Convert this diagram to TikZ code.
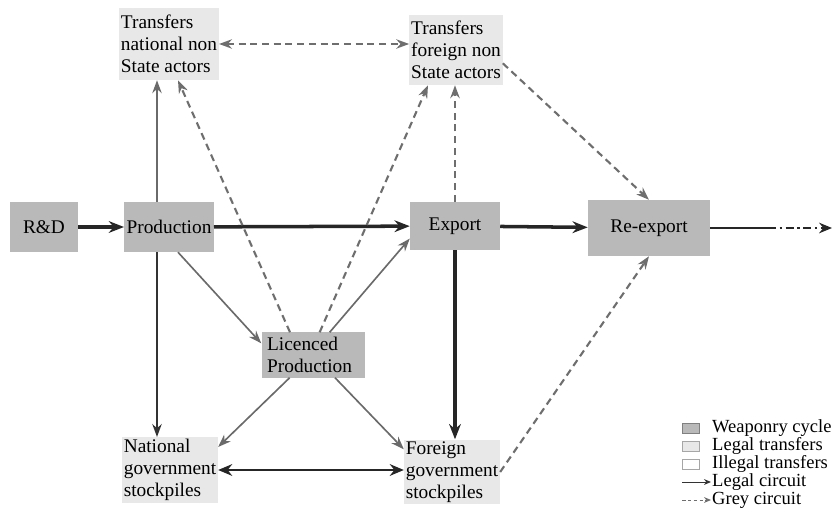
\documentclass[tikz,border=0pt]{standalone}
\usepackage{fontspec}
\setmainfont{Liberation Serif}
\usetikzlibrary{arrows.meta}
\definecolor{cyclegrey}{HTML}{B9B9B9}
\definecolor{legalgrey}{HTML}{E8E8E8}
\definecolor{linegrey}{HTML}{6A6A6A}
\definecolor{dashgrey}{HTML}{6E6E6E}
\tikzstyle{cycle} = [rectangle, fill=cyclegrey, inner sep=2pt, font=\fontsize{16.5}{19}\selectfont]
\tikzstyle{legal} = [rectangle, fill=legalgrey, inner sep=1.5pt, align=left, font=\fontsize{16.5}{19}\selectfont]
\tikzstyle{mainarrow} = [line width=3pt, -{Stealth[length=13pt, width=10pt]}, draw=black!85]
\tikzstyle{arrow} = [line width=1.5pt, -{Stealth[length=11pt, width=8pt]}, draw=black!80]
\tikzstyle{greyline} = [line width=1.4pt, -{Stealth[length=11pt, width=8pt]}, draw=linegrey]
\tikzstyle{greyarrow} = [line width=1.8pt, dash pattern=on 6pt off 4pt, -{Stealth[length=11pt, width=8pt]}, draw=dashgrey]
\tikzstyle{legendbox} = [rectangle, minimum width=0.5cm, minimum height=0.3cm, inner sep=0pt]
\tikzstyle{legendtext} = [anchor=west, inner sep=0pt, font=\fontsize{15.8}{15}\selectfont]

\begin{document}
\begin{tikzpicture}[x=0.03cm, y=-0.03cm]
\useasboundingbox (0,0) rectangle (836,516);

% Nodes
\node (rd) [cycle, minimum width=2.04cm, minimum height=1.5cm] at (44,227) {R\&D};
\node (prod) [cycle, minimum width=2.64cm, minimum height=1.5cm] at (169,227) {Production};
\node (export) [cycle, minimum width=2.7cm, minimum height=1.44cm] at (455,226) {Export};
\node (reexport) [cycle, minimum width=3.66cm, minimum height=1.68cm] at (649,228) {Re-export};
\node (licprod) [cycle, align=left, text width=2.75cm, minimum width=3.09cm, minimum height=1.35cm] at (313,355) {Licenced\\Production};

\node (tnat) [legal, minimum width=2.94cm, minimum height=2.16cm] at (169,44) {Transfers\\national non\\State actors};
\node (tfor) [legal, minimum width=2.76cm, minimum height=2.1cm] at (456,50) {Transfers\\foreign non\\State actors};
\node (natstock) [legal, minimum width=2.85cm, minimum height=1.5cm] at (170,470) {National\\government\\stockpiles};
\node (forstock) [legal, minimum width=2.85cm, minimum height=1.65cm] at (452,472) {Foreign\\government\\stockpiles};

\coordinate (natline) at ([xshift=-0.36cm]prod.south);
\coordinate (tnatline) at ([xshift=-0.36cm]prod.north);
\coordinate (outmid) at (768,228);
\coordinate (out) at (832,228);

% Arrows
\draw [mainarrow] (rd) -- (prod);
\draw [mainarrow] (prod) -- (export);
\draw [mainarrow] (export) -- (reexport);
\draw [line width=1.8pt, draw=black!85] (reexport.east) -- (outmid);
\draw [line width=1.8pt, draw=black!85, -{Stealth[length=11pt, width=9pt]}, dash pattern=on 7pt off 3pt on 2pt off 3pt] (outmid) -- (out);

\draw [greyline] (tnatline) -- (tnatline |- tnat.south);
\draw [arrow] (natline) -- (natline |- natstock.north);
\draw [mainarrow] (export.south) -- (export.south |- forstock.north);
\draw [greyarrow] (export.north) -- (export.north |- tfor.south);
\draw [greyarrow, {Stealth[length=11pt, width=8pt]}-{Stealth[length=11pt, width=8pt]}] (tnat.east) -- (tnat.east -| tfor.west);
\draw [greyarrow] ([yshift=-0.4cm]tfor.east) -- (reexport.north);
\draw [greyarrow] (forstock.east) -- (reexport.south);
\draw [greyarrow] ([xshift=-0.69cm]licprod.north) -- ([xshift=0.27cm]tnat.south);
\draw [greyarrow] ([xshift=0.2cm]licprod.north) -- ([xshift=-0.84cm]tfor.south);

\draw [greyline] ([xshift=0.27cm]prod.south) -- ([yshift=0.35cm]licprod.west);
\draw [greyline] ([xshift=0.5cm]licprod.north) -- ([yshift=0.35cm]export.south west);
\draw [greyline] ([xshift=-0.7cm]licprod.south) -- ([yshift=-0.3cm]natstock.north east);
\draw [greyline] ([xshift=0.66cm]licprod.south) -- ([yshift=-0.3cm]forstock.north west);
\draw [mainarrow, line width=2.2pt, {Stealth[length=12pt, width=10pt]}-{Stealth[length=12pt, width=10pt]}] (natstock.east) -- (natstock.east -| forstock.west);

% Legend
\node (legcycle) [legendbox, fill=cyclegrey, draw=gray] at (691,428) {};
\node (leglegal) [legendbox, fill=legalgrey, draw=gray!70] at (691,446) {};
\node (legillegal) [legendbox, fill=white, draw=gray!70] at (691,464) {};
\coordinate (legalstart) at (682,482);
\coordinate (legalend) at (711,482);
\coordinate (greystart) at (682,500);
\coordinate (greyend) at (711,500);
\draw [line width=0.8pt, -{Stealth[length=6pt, width=5pt]}, draw=black!80] (legalstart) -- (legalend);
\draw [line width=0.8pt, -{Stealth[length=6pt, width=5pt]}, draw=dashgrey, dash pattern=on 3pt off 2pt] (greystart) -- (greyend);
\node (legcycletext) [legendtext] at (712,428) {Weaponry cycle};
\node (leglegaltext) [legendtext] at (712,446) {Legal transfers};
\node (legillegaltext) [legendtext] at (712,464) {Illegal transfers};
\node (legalcircuit) [legendtext] at (712,482) {Legal circuit};
\node (greycircuit) [legendtext] at (712,500) {Grey circuit};

\end{tikzpicture}
\end{document}
